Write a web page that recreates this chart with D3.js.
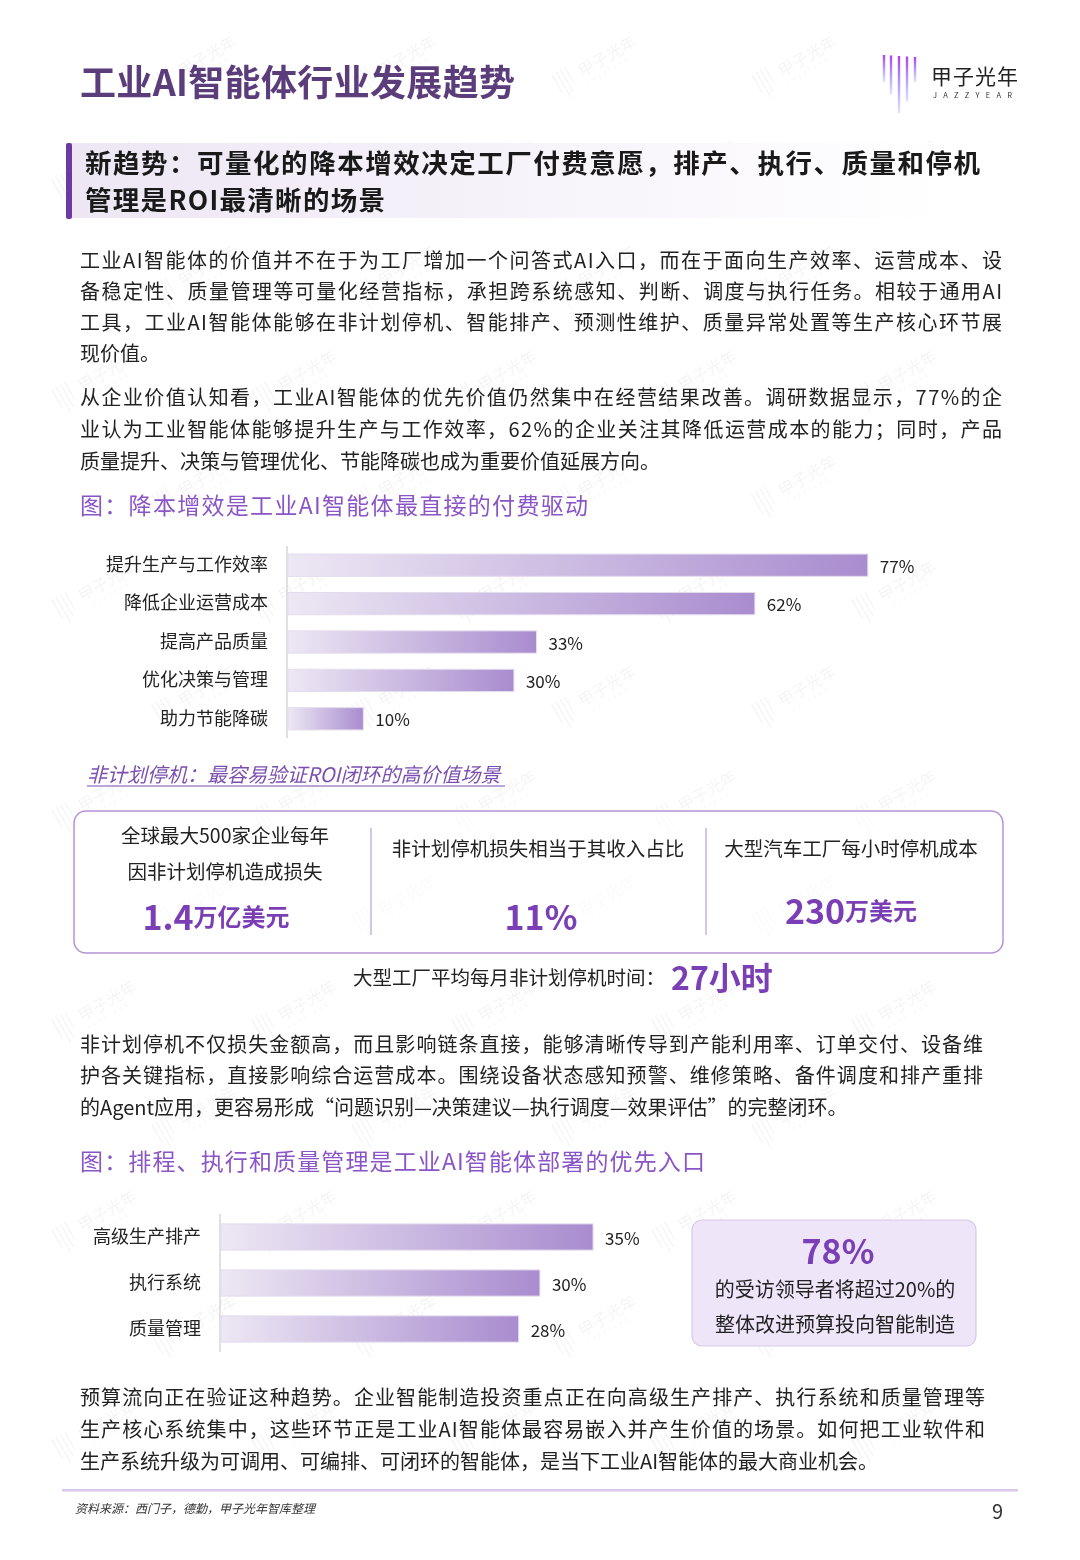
<!DOCTYPE html>
<html>
<head>
<meta charset="utf-8">
<script src="https://cdn.jsdelivr.net/npm/d3@7"></script>
<style>
  html, body { margin: 0; padding: 0; background: #fff; }
  svg { display: block; }
</style>
</head>
<body>
<script>
// ---- data ----
var driverLabels = ["提升生产与工作效率", "降低企业运营成本", "提高产品质量", "优化决策与管理", "助力节能降碳"];
var driverValues = [77, 62, 33, 30, 10];

var entryLabels = ["高级生产排产", "执行系统", "质量管理"];
var entryValues = [35, 30, 28];

var statHeads = [["全球最大500家企业每年", "因非计划停机造成损失"], ["非计划停机损失相当于其收入占比"], ["大型汽车工厂每小时停机成本"]];
var statNums = ["1.4", "11", "230"];
var statUnits = ["万亿美元", "%", "万美元"];

var para1 = [
  "工业AI智能体的价值并不在于为工厂增加一个问答式AI入口，而在于面向生产效率、运营成本、设",
  "备稳定性、质量管理等可量化经营指标，承担跨系统感知、判断、调度与执行任务。相较于通用AI",
  "工具，工业AI智能体能够在非计划停机、智能排产、预测性维护、质量异常处置等生产核心环节展",
  "现价值。"
];
var para2 = [
  "从企业价值认知看，工业AI智能体的优先价值仍然集中在经营结果改善。调研数据显示，77%的企",
  "业认为工业智能体能够提升生产与工作效率，62%的企业关注其降低运营成本的能力；同时，产品",
  "质量提升、决策与管理优化、节能降碳也成为重要价值延展方向。"
];
var para3 = [
  "非计划停机不仅损失金额高，而且影响链条直接，能够清晰传导到产能利用率、订单交付、设备维",
  "护各关键指标，直接影响综合运营成本。围绕设备状态感知预警、维修策略、备件调度和排产重排",
  "的Agent应用，更容易形成“问题识别—决策建议—执行调度—效果评估”的完整闭环。"
];
var para4 = [
  "预算流向正在验证这种趋势。企业智能制造投资重点正在向高级生产排产、执行系统和质量管理等",
  "生产核心系统集中，这些环节正是工业AI智能体最容易嵌入并产生价值的场景。如何把工业软件和",
  "生产系统升级为可调用、可编排、可闭环的智能体，是当下工业AI智能体的最大商业机会。"
];

var FONT = "'Noto Sans CJK SC', 'Noto Sans', sans-serif";
var PURPLE = "#7b3fb5";
var W = 1080, H = 1560;

var svg = d3.select("body").append("svg")
  .attr("width", W).attr("height", H)
  .style("font-family", FONT);

var defs = svg.append("defs");

// bar gradient (per bar, light to mid lavender)
var barGrad = defs.append("linearGradient").attr("id", "barGrad");
barGrad.append("stop").attr("offset", "0%").attr("stop-color", "#ede8f4");
barGrad.append("stop").attr("offset", "100%").attr("stop-color", "#a98ccf");

var headGrad = defs.append("linearGradient").attr("id", "headGrad");
headGrad.append("stop").attr("offset", "0%").attr("stop-color", "#ede6f4");
headGrad.append("stop").attr("offset", "100%").attr("stop-color", "#ffffff");

var logoGrad = defs.append("linearGradient").attr("id", "logoGrad")
  .attr("x1", "0").attr("y1", "0").attr("x2", "0").attr("y2", "1");
logoGrad.append("stop").attr("offset", "0%").attr("stop-color", "#b040f0");
logoGrad.append("stop").attr("offset", "100%").attr("stop-color", "#6a6cff").attr("stop-opacity", 0.2);

// faint watermarks (logo strokes + name), kept inside the page
var wm = svg.append("g").attr("opacity", 0.07).attr("fill", "#666");
var row = 0;
for (var wy = 90; wy < H - 60; wy += 105, row++) {
  for (var wx = row % 2 ? 60 : 160; wx < W - 130; wx += 200) {
    var m = wm.append("g").attr("transform", "translate(" + wx + "," + wy + ") rotate(-30)");
    [0, 5, 10, 15].forEach(function (dx, k) {
      m.append("rect").attr("x", dx).attr("y", -18).attr("width", 1.2)
        .attr("height", [22, 30, 26, 20][k]);
    });
    m.append("text").attr("x", 26).attr("y", 0).attr("font-size", 16).text("甲子光年");
    m.append("text").attr("x", 28).attr("y", 9).attr("font-size", 4.5)
      .attr("letter-spacing", 3.5).text("JAZZYEAR");
  }
}

// text block, full lines justified to the given width
function textBlock(lines, x, y0, lh, size, width, color) {
  var g = svg.append("g");
  lines.forEach(function (line, i) {
    var t = g.append("text")
      .attr("x", x).attr("y", y0 + i * lh)
      .attr("font-size", size).attr("fill", color || "#222")
      .attr("dominant-baseline", "central")
      .text(line);
    if (i < lines.length - 1 && width) t.attr("textLength", width).attr("lengthAdjust", "spacing");
  });
  return g;
}

// ---- header ----
svg.append("text").attr("x", 80).attr("y", 80)
  .attr("dominant-baseline", "central")
  .attr("font-size", 36).attr("font-weight", 700).attr("fill", "#5c3d7c")
  .attr("textLength", 435).attr("lengthAdjust", "spacing")
  .text("工业AI智能体行业发展趋势");

// logo
var logoX = [884, 891, 899, 907, 915];
var logoB = [82, 94, 112, 100, 80];
logoX.forEach(function (x, i) {
  svg.append("rect").attr("x", x - 1.2).attr("y", 55 + i * 0.5).attr("width", 2.4)
    .attr("height", logoB[i] - 55).attr("fill", "url(#logoGrad)");
});
svg.append("text").attr("x", 931).attr("y", 75).attr("dominant-baseline", "central")
  .attr("font-size", 21).attr("fill", "#222").attr("letter-spacing", 1).text("甲子光年");
svg.append("text").attr("x", 933).attr("y", 94).attr("dominant-baseline", "central")
  .attr("font-size", 7.5).attr("fill", "#333").attr("letter-spacing", 6.3).text("JAZZYEAR");

// section heading
svg.append("rect").attr("x", 66).attr("y", 143).attr("width", 875).attr("height", 75)
  .attr("fill", "url(#headGrad)");
svg.append("rect").attr("x", 66).attr("y", 143).attr("width", 6).attr("height", 76)
  .attr("rx", 2).attr("fill", "#6d3aa0");
var hd = textBlock(["新趋势：可量化的降本增效决定工厂付费意愿，排产、执行、质量和停机", "管理是ROI最清晰的场景"],
  85, 161, 37, 26.5, 895, "#1a1a1a").attr("font-weight", 700);
hd.selectAll("text").filter(function (d, i) { return i === 1; }).attr("letter-spacing", 1.3);

// paragraphs
textBlock(para1, 80, 259, 31.3, 20, 922);
textBlock(para2, 80, 396, 32, 20, 922);

// ---- chart 1 ----
svg.append("text").attr("x", 80).attr("y", 504).attr("dominant-baseline", "central")
  .attr("font-size", 23).attr("fill", "#8a55c7")
  .attr("textLength", 508).attr("lengthAdjust", "spacing")
  .text("图：降本增效是工业AI智能体最直接的付费驱动");

function barChart(labels, values, opt) {
  var x = d3.scaleLinear().domain([0, 1]).range([opt.x0, opt.x0 + opt.perUnit]);
  var y = d3.scaleBand().domain(labels).range([opt.top, opt.bottom]).paddingInner(opt.pad).paddingOuter(opt.pad / 2);
  var g = svg.append("g");
  g.append("line").attr("x1", opt.x0 - 1).attr("x2", opt.x0 - 1)
    .attr("y1", opt.top).attr("y2", opt.bottom)
    .attr("stroke", "#d6d6d6").attr("stroke-width", 1.5);
  var yAxis = d3.axisLeft(y).tickSize(0).tickPadding(opt.labelPad);
  var ax = g.append("g").attr("transform", "translate(" + opt.x0 + ",0)").call(yAxis);
  ax.select(".domain").remove();
  ax.selectAll("text").attr("font-size", opt.fs).attr("fill", "#222").attr("font-family", FONT);
  g.selectAll(".bar").data(values).enter().append("rect")
    .attr("x", opt.x0)
    .attr("y", function (d, i) { return y(labels[i]); })
    .attr("width", function (d) { return x(d) - opt.x0; })
    .attr("height", y.bandwidth())
    .attr("fill", "url(#barGrad)")
    .attr("stroke", "#e4dcef").attr("stroke-width", 1);
  g.selectAll(".val").data(values).enter().append("text")
    .attr("x", function (d) { return x(d) + 12; })
    .attr("y", function (d, i) { return y(labels[i]) + y.bandwidth() / 2; })
    .attr("dominant-baseline", "central")
    .attr("font-size", opt.vfs).attr("fill", "#222")
    .text(function (d) { return d + "%"; });
}

barChart(driverLabels, driverValues, {
  x0: 288, perUnit: 7.53, top: 546, bottom: 738, pad: 0.42, labelPad: 20, fs: 18, vfs: 17
});

// sub heading
svg.append("text").attr("x", 87).attr("y", 773).attr("dominant-baseline", "central")
  .attr("font-size", 20).attr("font-style", "italic").attr("fill", "#7a4fb0")
  .text("非计划停机：最容易验证ROI闭环的高价值场景");
svg.append("line").attr("x1", 87).attr("x2", 505).attr("y1", 786).attr("y2", 786)
  .attr("stroke", "#7a4fb0").attr("stroke-width", 1.2);

// ---- stat box ----
svg.append("rect").attr("x", 74).attr("y", 811).attr("width", 929).attr("height", 142)
  .attr("rx", 12).attr("fill", "#fff").attr("fill-opacity", 0.6)
  .attr("stroke", "#b592d6").attr("stroke-width", 1.5);
[371, 706].forEach(function (x) {
  svg.append("line").attr("x1", x).attr("x2", x).attr("y1", 828).attr("y2", 935)
    .attr("stroke", "#b9a0d6").attr("stroke-width", 1.2);
});
var colX = [225, 538, 851];
var numX = [216, 541, 851];
var numY = [915, 915, 909];
statHeads.forEach(function (lines, i) {
  var y0 = lines.length > 1 ? 834 : 847;
  lines.forEach(function (l, j) {
    svg.append("text").attr("x", colX[i]).attr("y", y0 + j * 36)
      .attr("text-anchor", "middle").attr("dominant-baseline", "central")
      .attr("font-size", 19.5).attr("fill", "#222").text(l);
  });
  var t = svg.append("text").attr("x", numX[i]).attr("y", numY[i])
    .attr("text-anchor", "middle").attr("dominant-baseline", "central")
    .attr("fill", PURPLE).attr("font-weight", 700);
  t.append("tspan").attr("font-size", 34).text(statNums[i]);
  t.append("tspan").attr("font-size", statUnits[i] === "%" ? 34 : 24).text(statUnits[i]);
});

var mt = svg.append("text").attr("x", 353).attr("y", 976).attr("dominant-baseline", "central");
mt.append("tspan").attr("font-size", 19.5).attr("fill", "#222").text("大型工厂平均每月非计划停机时间：");
mt.append("tspan").attr("font-size", 32).attr("font-weight", 700).attr("fill", PURPLE).attr("dx", 6).text("27小时");

textBlock(para3, 80, 1043, 31.5, 20, 903);

// ---- chart 2 ----
svg.append("text").attr("x", 80).attr("y", 1160).attr("dominant-baseline", "central")
  .attr("font-size", 23).attr("fill", "#8a55c7")
  .attr("textLength", 625).attr("lengthAdjust", "spacing")
  .text("图：排程、执行和质量管理是工业AI智能体部署的优先入口");

barChart(entryLabels, entryValues, {
  x0: 221, perUnit: 10.63, top: 1214, bottom: 1352, pad: 0.43, labelPad: 20, fs: 18, vfs: 17
});

// callout
svg.append("rect").attr("x", 692).attr("y", 1220).attr("width", 284).attr("height", 126)
  .attr("rx", 10).attr("fill", "#eee5f9").attr("stroke", "#d8c8ee").attr("stroke-width", 1.2);
svg.append("text").attr("x", 838).attr("y", 1249).attr("text-anchor", "middle").attr("dominant-baseline", "central")
  .attr("font-size", 34).attr("font-weight", 700).attr("fill", PURPLE).text("78%");
["的受访领导者将超过20%的", "整体改进预算投向智能制造"].forEach(function (l, i) {
  svg.append("text").attr("x", 835).attr("y", 1288 + i * 35).attr("text-anchor", "middle")
    .attr("dominant-baseline", "central").attr("font-size", 20).attr("fill", "#222").text(l);
});

textBlock(para4, 80, 1396, 32, 20, 905);

// ---- footer ----
svg.append("rect").attr("x", 62).attr("y", 1489).attr("width", 956).attr("height", 2.5).attr("fill", "#d9c8ea");
svg.append("text").attr("x", 75).attr("y", 1507).attr("dominant-baseline", "central")
  .attr("font-size", 12).attr("font-style", "italic").attr("fill", "#333")
  .text("资料来源：西门子，德勤，甲子光年智库整理");
svg.append("text").attr("x", 1003).attr("y", 1510).attr("text-anchor", "end").attr("dominant-baseline", "central")
  .attr("font-size", 20).attr("fill", "#333").text("9");
</script>
</body>
</html>
